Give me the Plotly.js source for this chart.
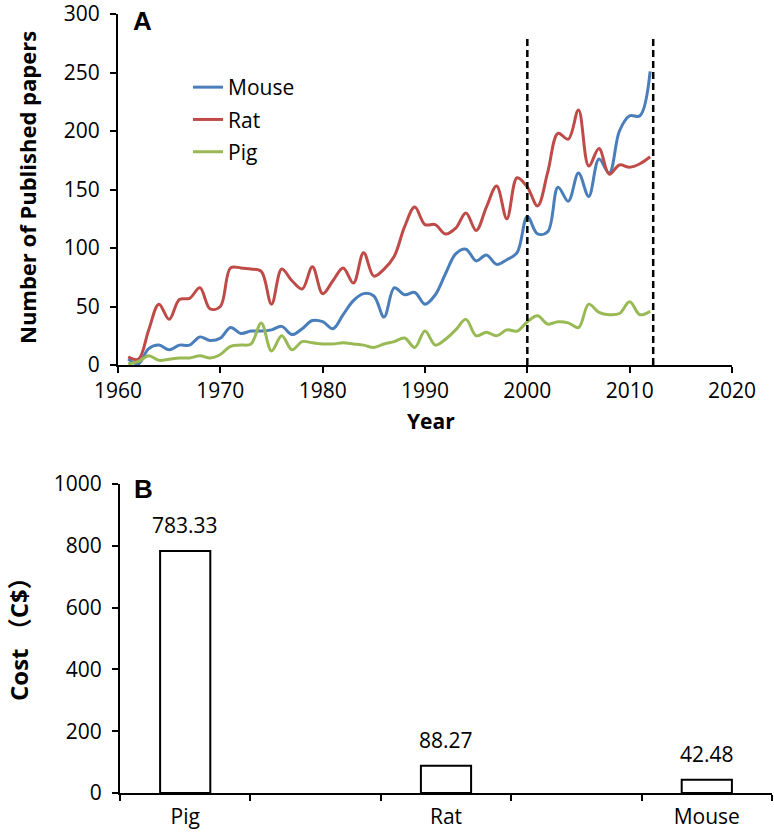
<!DOCTYPE html>
<html>
<head>
<meta charset="utf-8">
<script src="https://cdn.plot.ly/plotly-3.0.1.min.js"></script>
<style>html,body{margin:0;padding:0;background:#fff;}</style>
</head>
<body>
<div id="chart" style="width:774px;height:840px;"></div>
<script>
// ---- Panel A data: number of published papers per year ----
const years = [1961,1962,1963,1964,1965,1966,1967,1968,1969,1970,
  1971,1972,1973,1974,1975,1976,1977,1978,1979,1980,
  1981,1982,1983,1984,1985,1986,1987,1988,1989,1990,
  1991,1992,1993,1994,1995,1996,1997,1998,1999,2000,
  2001,2002,2003,2004,2005,2006,2007,2008,2009,2010,2011,2012];
const mouse = [5,1,14,17,13,17,17,24,21,23,
  32,27,29,29,30,33,26,31,38,37,
  31,43,55,61,59,41,66,60,62,52,
  60,78,95,99,89,94,86,90,96,127,
  112,114,152,140,164,144,176,164,200,213,213,251];
const rat = [7,5,30,52,39,56,57,66,48,50,
  83,83,82,80,52,82,72,65,84,61,
  72,83,70,96,76,82,93,118,135,120,
  120,112,117,130,115,135,153,125,160,152,
  136,165,198,193,218,170,185,163,171,169,172,178];
const pig = [1,3,8,4,5,6,6,8,6,9,
  16,17,18,36,12,25,13,20,19,18,
  18,19,18,17,15,18,20,23,15,29,
  17,22,30,39,25,28,25,30,29,37,
  42,35,37,36,32,52,45,43,44,54,43,46];
const markerYears = [2000, 2012.3];
const markerTop = 280;

// ---- Panel B data: cost ----
const costCats = ['Pig', ' ', 'Rat', '  ', 'Mouse'];
const costVals = [783.33, null, 88.27, null, 42.48];
const costLabels = ['783.33', '', '88.27', '', '42.48'];

const FONT = 'Open Sans, Noto Sans, sans-serif';
const CJK = 'Open Sans, Noto Sans CJK SC, sans-serif';

function lineTrace(name, y, color, grp) {
  return {x: years, y: y, name: name, type: 'scatter', mode: 'lines',
    line: {color: color, width: 3, shape: 'spline', smoothing: 1},
    xaxis: 'x', yaxis: 'y', legendgroup: grp};
}

const traces = [
  lineTrace('Mouse', mouse, '#4a7ebb', 'g1'),
  lineTrace('Rat', rat, '#be4b48', 'g2'),
  lineTrace('Pig', pig, '#98b954', 'g3'),
  {x: costCats, y: costVals, type: 'bar', xaxis: 'x2', yaxis: 'y2',
   width: 0.385, showlegend: false,
   marker: {color: '#ffffff', line: {color: '#000000', width: 2}}}
];

const shapes = markerYears.map(v => ({
  type: 'line', xref: 'x', yref: 'y', x0: v, x1: v, y0: 0, y1: markerTop,
  line: {color: '#000', width: 2.5, dash: '7px,4px'}
}));

function paperText(text, px, py, size, family, angle) {
  return {text: text, xref: 'paper', yref: 'paper', x: px/774, y: 1 - py/840,
    xanchor: 'center', yanchor: 'middle', showarrow: false, textangle: angle || 0,
    font: {family: family, size: size, color: '#000'}};
}

const annotations = [
  paperText('<b>A</b>', 142, 21, 26, 'Liberation Sans, Arial, sans-serif'),
  paperText('<b>B</b>', 143, 489, 26, 'Liberation Sans, Arial, sans-serif'),
  paperText('<b>Year</b>', 431, 421, 21, FONT),
  paperText('<b>Number of Published papers</b>', 27, 188, 22, FONT, -90),
  paperText('<b>Cost （C$）</b>', 18, 633, 24, CJK, -90)
];
costCats.forEach((c, i) => {
  if (costVals[i] !== null) {
    annotations.push({text: costLabels[i], x: c, y: costVals[i], xref: 'x2', yref: 'y2',
      showarrow: false, yanchor: 'bottom', yshift: 10,
      font: {family: FONT, size: 21, color: '#000'}});
  }
});

const axisCommon = {
  showline: true, linecolor: '#000', linewidth: 2, mirror: false,
  ticks: 'outside', ticklen: 6, tickwidth: 2, tickcolor: '#000',
  showgrid: false, zeroline: false, automargin: false,
  ticklabeloverflow: 'allow',
  tickfont: {family: FONT, size: 21, color: '#000'}
};

const layout = {
  width: 774, height: 840,
  margin: {l: 0, r: 0, t: 0, b: 0},
  paper_bgcolor: '#fff', plot_bgcolor: 'rgba(0,0,0,0)',
  font: {family: FONT, color: '#000'},
  showlegend: true,
  legend: {x: 188/774, y: 1 - 67/840, xanchor: 'left', yanchor: 'top',
    bgcolor: 'rgba(0,0,0,0)', font: {family: FONT, size: 21, color: '#000'},
    tracegroupgap: 2},
  xaxis: Object.assign({}, axisCommon, {
    domain: [118/774, 732/774], anchor: 'y', range: [1960, 2020],
    tick0: 1960, dtick: 10
  }),
  yaxis: Object.assign({}, axisCommon, {
    domain: [1 - 365/840, 1 - 14/840], anchor: 'x', range: [0, 300], dtick: 50,
    ticklabelstandoff: 6
  }),
  xaxis2: Object.assign({}, axisCommon, {
    domain: [120/774, 772/774], anchor: 'y2', type: 'category',
    categoryorder: 'array', categoryarray: costCats,
    range: [-0.5, 4.5], tickson: 'boundaries', ticklabelstandoff: 4
  }),
  yaxis2: Object.assign({}, axisCommon, {
    domain: [1 - 793/840, 1 - 484/840], anchor: 'x2', range: [0, 1000], dtick: 200,
    ticklabelstandoff: 6
  }),
  shapes: shapes,
  annotations: annotations
};

Plotly.newPlot('chart', traces, layout, {displayModeBar: false, staticPlot: true});
</script>
</body>
</html>
